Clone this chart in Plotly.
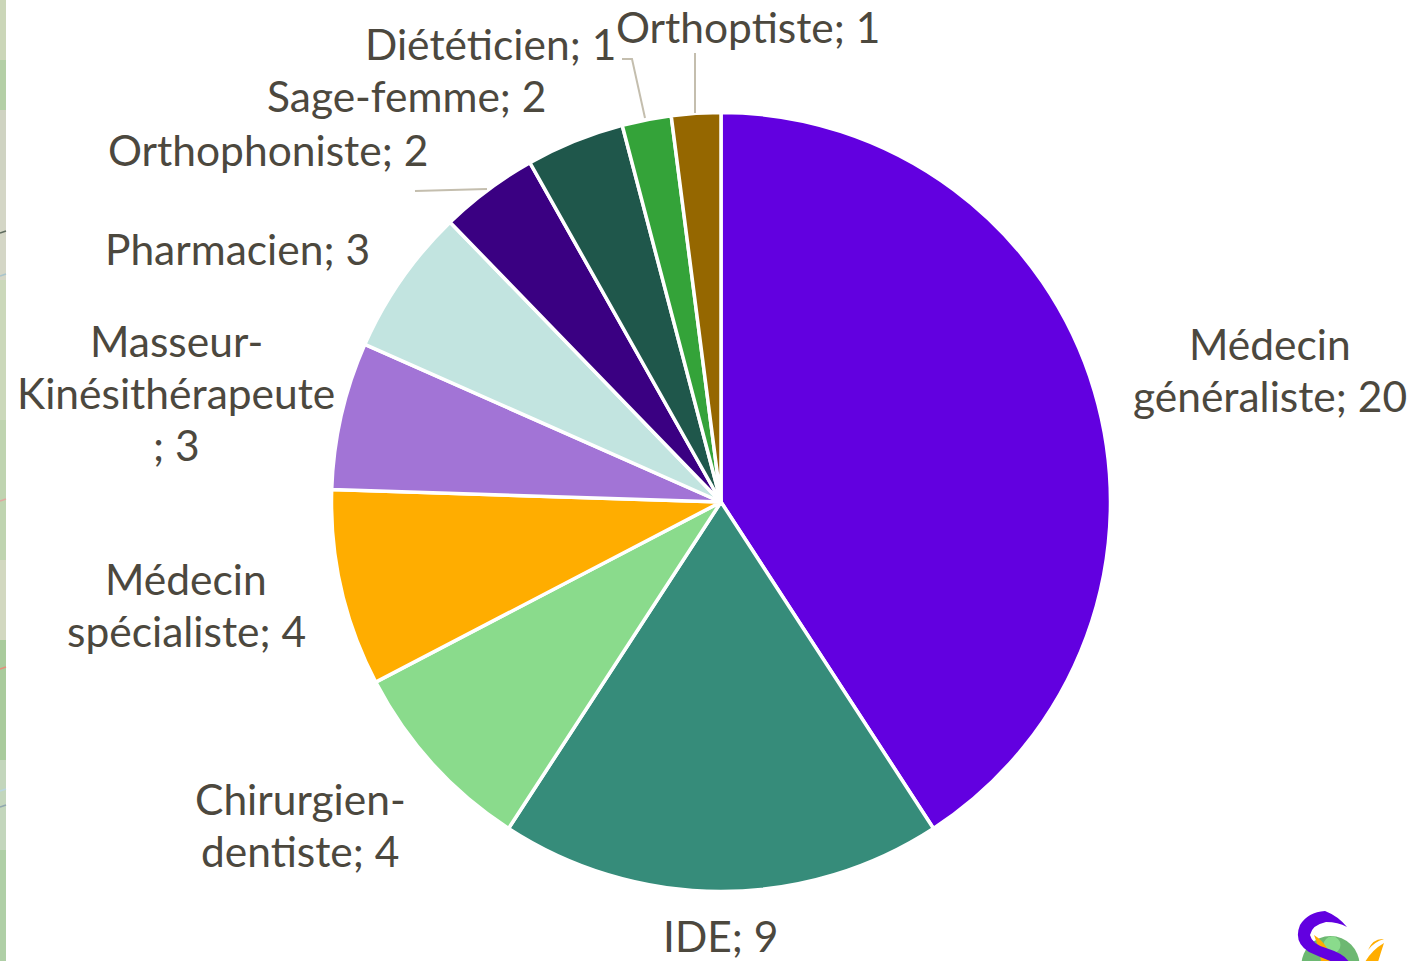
import plotly.graph_objects as go

W, H = 1424, 961
categories = ["Médecin généraliste", "IDE", "Chirurgien-dentiste", "Médecin spécialiste",
              "Masseur-Kinésithérapeute", "Pharmacien", "Orthophoniste", "Sage-femme",
              "Diététicien", "Orthoptiste"]
values = [20, 9, 4, 4, 3, 3, 2, 2, 1, 1]
colors = ["#6200E0", "#368C7A", "#8ADB8C", "#FFAD00", "#A274D6", "#C2E4E0",
          "#3A0082", "#1F574B", "#34A339", "#956700"]
label_lines = [
    ("Médecin", 1270, 343.5), ("généraliste; 20", 1270, 395.5),
    ("IDE; 9", 720, 935.5),
    ("Chirurgien-", 300, 798.5), ("dentiste; 4", 300, 850.5),
    ("Médecin", 186, 578.5), ("spécialiste; 4", 186, 630.5),
    ("Masseur-", 176, 340.5), ("Kinésithérapeute", 176, 392.5), ("; 3", 176, 444.5),
    ("Pharmacien; 3", 237, 248.5),
    ("Orthophoniste; 2", 268, 149.5),
    ("Sage-femme; 2", 407, 95.5),
    ("Diététicien; 1", 490, 43.5),
    ("Orthoptiste; 1", 748, 26.5),
]
TEXT = "#4C483E"
LEADER = "#C4BEAE"
PURPLE, ORANGE, GREEN, LIGHT = "#6200E0", "#FFAD00", "#6DB872", "#8ADB8C"

def px(x): return x / W
def py(y): return 1 - y / H
def P(x, y): return f"{px(x):.5f},{py(y):.5f}"

fig = go.Figure(go.Pie(
    labels=categories, values=values, sort=False, direction="clockwise", rotation=0,
    marker=dict(colors=colors, line=dict(color="white", width=3.5)),
    textinfo="none", hoverinfo="label+value", showlegend=False,
    domain=dict(x=[px(721 - 389.5), px(721 + 389.5)], y=[py(891.5), py(112.5)]),
))

annotations = [dict(x=px(x), y=py(y), xref="paper", yref="paper", text=t, showarrow=False,
                    xanchor="center", yanchor="middle", align="center",
                    font=dict(family="Lato", size=42.5, color=TEXT))
               for t, x, y in label_lines]

def seg(pts, color=LEADER, width=2):
    d = "M" + " L".join(P(x, y) for x, y in pts)
    return dict(type="path", path=d, xref="paper", yref="paper", line=dict(color=color, width=width))

def blob(d, color):
    return dict(type="path", path=d, xref="paper", yref="paper", fillcolor=color, line=dict(width=0))

def disc(cx, cy, r, color):
    return dict(type="circle", xref="paper", yref="paper", x0=px(cx - r), x1=px(cx + r),
                y0=py(cy + r), y1=py(cy - r), fillcolor=color, line=dict(width=0))

strip_bands = [(0, 60, "#CBD6B8"), (60, 110, "#B4CFA6"), (110, 180, "#CFD3C2"), (180, 280, "#D4D6C6"),
               (280, 420, "#CBD8BA"), (420, 560, "#BFD4B0"), (560, 640, "#D2D8C0"), (640, 760, "#A9CB9C"),
               (760, 850, "#C3D6BC"), (850, 961, "#AFCFA6")]
strip_marks = [(232, "#5E6B5E"), (275, "#A9C4CC"), (500, "#E0A8A0"), (668, "#E58E7C"),
               (790, "#B9D6E0"), (806, "#8FA6AE")]
shapes = [dict(type="rect", xref="paper", yref="paper", x0=0, x1=px(6), y0=py(b), y1=py(a),
               fillcolor=c, line=dict(width=0), layer="below") for a, b, c in strip_bands]
shapes += [seg([(0, y + 1), (6, y - 1)], color=c, width=1.5) for y, c in strip_marks]
shapes += [
    # leader lines
    seg([(415, 191), (487, 189)]),
    seg([(622, 59), (632, 59), (645, 118)]),
    seg([(695, 53), (695, 113)]),
    # logo at the bottom right
    disc(1330.5, 965, 29, GREEN),
    disc(1332, 945, 8.5, LIGHT),
    blob(f"M{P(1314,935)} Q{P(1322,940)} {P(1327,948)} Q{P(1332,955)} {P(1334,962)} L{P(1321,962)} "
         f"Q{P(1320,950)} {P(1314,935)} Z", ORANGE),
    blob(f"M{P(1347,927)} Q{P(1338,916)} {P(1325,911)} Q{P(1308,912)} {P(1300,925)} "
         f"Q{P(1293,942)} {P(1309,952)} Q{P(1322,958)} {P(1333,962)} L{P(1349,962)} "
         f"Q{P(1345,954)} {P(1326,948)} Q{P(1312,944)} {P(1310,935)} "
         f"Q{P(1312,925)} {P(1326,922)} Q{P(1338,922)} {P(1347,927)} Z", PURPLE),
    blob(f"M{P(1384,943)} Q{P(1372,950)} {P(1365,962)} L{P(1378,962)} Q{P(1381,952)} {P(1384,943)} Z", ORANGE),
    blob(f"M{P(1384,939)} Q{P(1373,938)} {P(1368,950)} Q{P(1374,942)} {P(1384,939)} Z", ORANGE),
]

fig.update_layout(width=W, height=H, margin=dict(l=0, r=0, t=0, b=0), autosize=False,
                  paper_bgcolor="white", annotations=annotations, shapes=shapes)
fig.write_html("out.html", config=dict(displayModeBar=False),
               post_script="document.body.style.margin='0';document.documentElement.style.overflow='hidden';")
